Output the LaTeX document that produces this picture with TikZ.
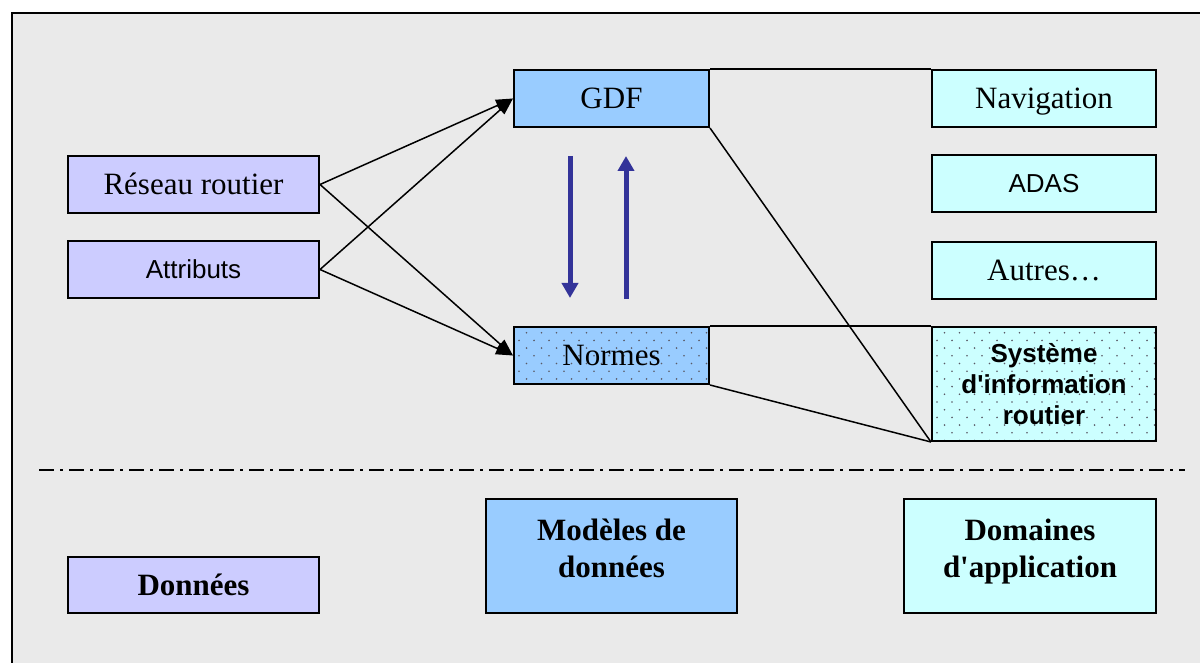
\documentclass[tikz,border=0pt]{standalone}
\usepackage{fontspec}
\setmainfont{Liberation Serif}
\setsansfont{Liberation Sans}
\usetikzlibrary{arrows.meta,calc}

\definecolor{panel}{HTML}{EAEAEA}
\definecolor{datafill}{HTML}{CCCCFF}
\definecolor{modelfill}{HTML}{99CCFF}
\definecolor{appfill}{HTML}{CCFFFF}
\definecolor{dotgray}{HTML}{5A5A66}
\definecolor{flowblue}{HTML}{333399}

\tikzset{
  box/.style={draw, line width=2pt, inner sep=0pt, align=center,
    font=\fontsize{31}{37}\selectfont},
  % single-line labels are centred on their capital height
  serifline/.style={text height=20.5pt, text depth=0pt},
  sansline/.style={font=\sffamily\fontsize{26}{31}\selectfont, text height=18.6pt, text depth=0pt},
  databox/.style={box, fill=datafill, minimum width=251pt, minimum height=57pt},
  modelbox/.style={box, fill=modelfill, minimum width=195pt, minimum height=57pt},
  appbox/.style={box, fill=appfill, minimum width=224pt, minimum height=57pt},
  dotted field/.style={path picture={
    \coordinate (pp) at (path picture bounding box.north west);
    \foreach \r in {0,...,15}{
      \foreach \c in {0,...,16}{
        \fill[dotgray] ($(pp)+({\c*15+12.5-mod(\r,2)*7.5},{\r*7.7+5.7})$) circle (0.9pt);
      }
    }
  }},
  link/.style={line width=1.5pt},
  feed/.style={line width=1.5pt, -{Triangle[length=17pt,width=12pt]}},
  flow/.style={line width=5pt, flowblue, -{Triangle[length=15pt,width=16pt]}},
  sep/.style={line width=2.5pt, dash pattern=on 15pt off 6pt on 2.5pt off 6.5pt}
}

\begin{document}
\begin{tikzpicture}[x=1pt,y=-1pt]
  \useasboundingbox (0,0) rectangle (1200,663);
  \clip (0,0) rectangle (1200,663);

  % outer panel
  \draw[fill=panel, line width=2pt] (12,13) rectangle (1220,690);

  % data sources
  \node[databox, serifline] (reseau) at (193.5,184.5) {Réseau routier};
  \node[databox, sansline] (attr) at (193.5,269.5) {Attributs};

  % data models
  \node[modelbox, serifline] (gdf) at (611.5,98.5) {GDF};
  \node[modelbox, serifline, dotted field] (normes) at (611.5,355.5) {Normes};

  % application domains
  \node[appbox, serifline] (nav) at (1044,98.5) {Navigation};
  \node[appbox, sansline] (adas) at (1044,183.5) {ADAS};
  \node[appbox, serifline] (autres) at (1044,270.5) {Autres…};
  \node[appbox, minimum height=114pt, dotted field,
        font=\sffamily\bfseries\fontsize{26}{31}\selectfont] (sir) at (1044,384)
        {Système\\d\textquotesingle information\\routier};

  % sources feeding the models
  \draw[feed] (reseau.east) -- (gdf.west);
  \draw[feed] (reseau.east) -- (normes.west);
  \draw[feed] (attr.east) -- (gdf.west);
  \draw[feed] (attr.east) -- (normes.west);

  % exchange between GDF and the standards
  \coordinate (downtop) at (570,156);
  \coordinate (downtip) at (570,298);
  \coordinate (upbase) at (626,299);
  \coordinate (uptip) at (626,156);
  \draw[flow] (downtop) -- (downtip);
  \draw[flow] (upbase) -- (uptip);

  % links from the models to the applications
  \draw[link] (gdf.north east) -- (nav.north west);
  \draw[link] (gdf.south east) -- (sir.south west);
  \draw[link] (normes.north east) -- (sir.north west);
  \draw[link] (normes.south east) -- (sir.south west);

  % separator
  \coordinate (sepL) at (39,470);
  \coordinate (sepR) at (1185,470);
  \draw[sep] (sepL) -- (sepR);

  % legend
  \node[databox, minimum height=56pt, serifline, font=\bfseries\fontsize{31}{37}\selectfont]
        (donnees) at (193.5,585) {Données};
  \node[box, fill=modelfill, minimum width=251pt, minimum height=114pt,
        font=\bfseries\fontsize{31}{37}\selectfont]
        (modeles) at (611.5,556) {Modèles de\\données\\[-21pt]};
  \node[box, fill=appfill, minimum width=252pt, minimum height=114pt,
        font=\bfseries\fontsize{31}{37}\selectfont]
        (domaines) at (1030,556) {Domaines\\d\textquotesingle application\\[-21pt]};
\end{tikzpicture}
\end{document}
